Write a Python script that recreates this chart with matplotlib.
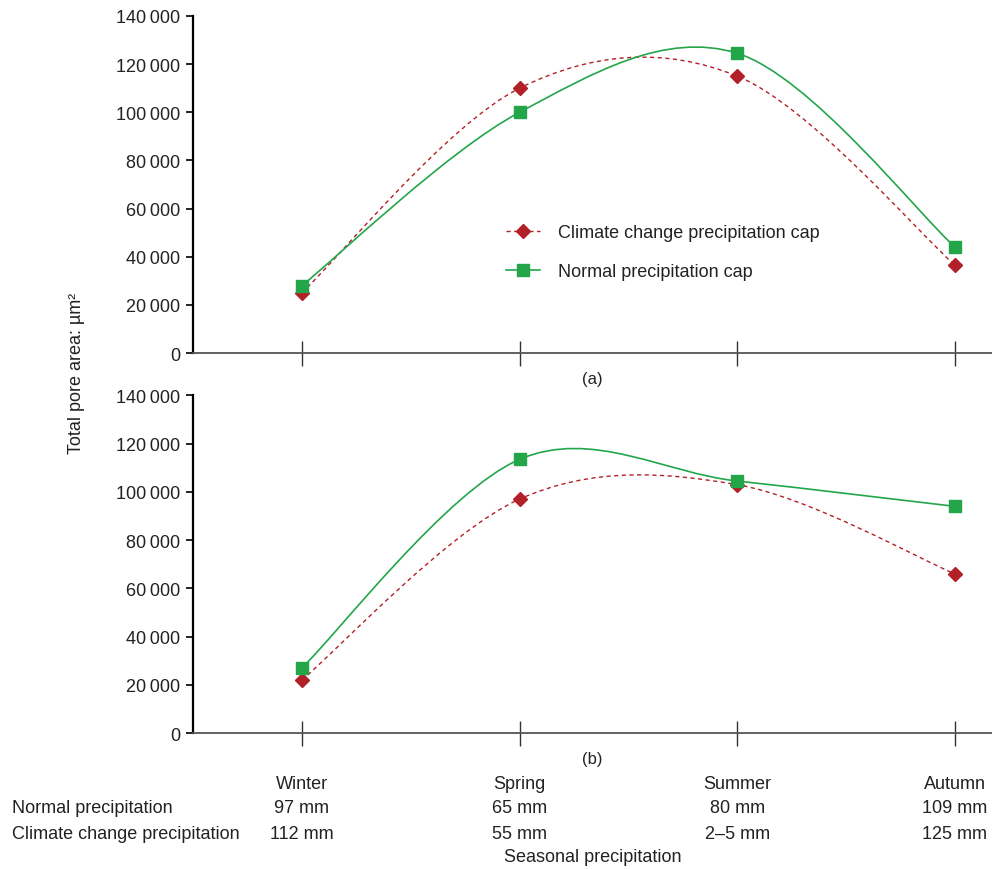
import numpy as np
import matplotlib
matplotlib.use('Agg')
import matplotlib.pyplot as plt
from matplotlib.path import Path
from matplotlib.patches import PathPatch
from matplotlib.lines import Line2D
from matplotlib.ticker import FuncFormatter

plt.rcParams['font.family'] = ['Liberation Sans', 'DejaVu Sans']

seasons = ['Winter', 'Spring', 'Summer', 'Autumn']
normal_precip = ['97 mm', '65 mm', '80 mm', '109 mm']
climate_precip = ['112 mm', '55 mm', '2\u20135 mm', '125 mm']

# (a)
climate_a = [25000, 110000, 115000, 36500]
normal_a = [28000, 100000, 124500, 44000]
# (b)
climate_b = [22000, 97000, 103000, 66000]
normal_b = [27000, 113500, 104500, 94000]

red = '#b22028'
green = '#23a64a'
txt = '#222222'


def smooth_path(xs, ys):
    # Catmull-Rom style bezier, like a spreadsheet "smoothed line"
    pts = np.column_stack([xs, ys]).astype(float)
    n = len(pts)
    verts = [pts[0]]
    codes = [Path.MOVETO]
    for i in range(n - 1):
        p0 = pts[max(i - 1, 0)]
        p1 = pts[i]
        p2 = pts[i + 1]
        p3 = pts[min(i + 2, n - 1)]
        verts += [p1 + (p2 - p0) / 6, p2 - (p3 - p1) / 6, p2]
        codes += [Path.CURVE4] * 3
    return Path(verts, codes)


def thin_fmt(v, pos):
    s = '{:,.0f}'.format(v)
    return s.replace(',', '\u2009')


def draw_panel(ax, climate, normal, tag):
    x = np.arange(len(seasons))
    ax.add_patch(PathPatch(smooth_path(x, climate), fill=False, ec=red,
                           lw=1.0, ls=(0, (3, 2.5))))
    ax.add_patch(PathPatch(smooth_path(x, normal), fill=False, ec=green, lw=1.2))
    ax.plot(x, climate, ls='none', marker='D', ms=7, color=red, zorder=5)
    ax.plot(x, normal, ls='none', marker='s', ms=9, color=green, zorder=5)
    ax.set_xlim(-0.5, 3.17)
    ax.set_ylim(0, 140000)
    ax.set_yticks(np.arange(0, 140001, 20000))
    ax.yaxis.set_major_formatter(FuncFormatter(thin_fmt))
    ax.set_xticks(x)
    ax.set_xticklabels([])
    ax.tick_params(axis='x', direction='inout', length=18, width=1, color='#333333')
    ax.tick_params(axis='y', direction='out', length=5, width=1.2, labelsize=13,
                   labelcolor=txt, pad=4)
    for s in ['top', 'right']:
        ax.spines[s].set_visible(False)
    ax.spines['left'].set_linewidth(1.6)
    ax.spines['bottom'].set_color('#555555')
    ax.spines['bottom'].set_linewidth(1.3)
    ax.text(0.5, -0.075, tag, transform=ax.transAxes,
            ha='center', va='center', fontsize=12, color=txt)


fig = plt.figure(figsize=(9.92, 8.7), dpi=100)
ax1 = fig.add_axes([0.1946, 0.5931, 0.8054, 0.3874])
ax2 = fig.add_axes([0.1946, 0.1563, 0.8054, 0.3880])
draw_panel(ax1, climate_a, normal_a, '(a)')
draw_panel(ax2, climate_b, normal_b, '(b)')

handles = [
    Line2D([], [], color=red, lw=1.0, ls=(0, (3, 2.5)), marker='D', ms=7),
    Line2D([], [], color=green, lw=1.2, marker='s', ms=9),
]
ax1.legend(handles, ['Climate change precipitation cap', 'Normal precipitation cap'],
           loc='upper left', bbox_to_anchor=(0.371, 0.43), frameon=False, fontsize=13,
           handlelength=1.9, labelspacing=1.2, handletextpad=1.0,
           labelcolor=txt)

fig.text(0.077, 0.571, 'Total pore area: \u00b5m\u00b2', rotation=90, ha='center',
         va='center', fontsize=13, color=txt)

# table under the chart
for i, s in enumerate(seasons):
    xf = ax2.transData.transform((i, 0))[0] / fig.bbox.width
    fig.text(xf, 1 - 785 / 870, s, ha='center', va='center', fontsize=13, color=txt)
    fig.text(xf, 1 - 809 / 870, normal_precip[i], ha='center', va='center',
             fontsize=13, color=txt)
    fig.text(xf, 1 - 835 / 870, climate_precip[i], ha='center', va='center',
             fontsize=13, color=txt)
fig.text(12 / 992, 1 - 809 / 870, 'Normal precipitation', ha='left', va='center',
         fontsize=13, color=txt)
fig.text(12 / 992, 1 - 835 / 870, 'Climate change precipitation', ha='left',
         va='center', fontsize=13, color=txt)
fig.text(593 / 992, 1 - 858 / 870, 'Seasonal precipitation', ha='center',
         va='center', fontsize=13, color=txt)

fig.savefig('out.png', dpi=100)
